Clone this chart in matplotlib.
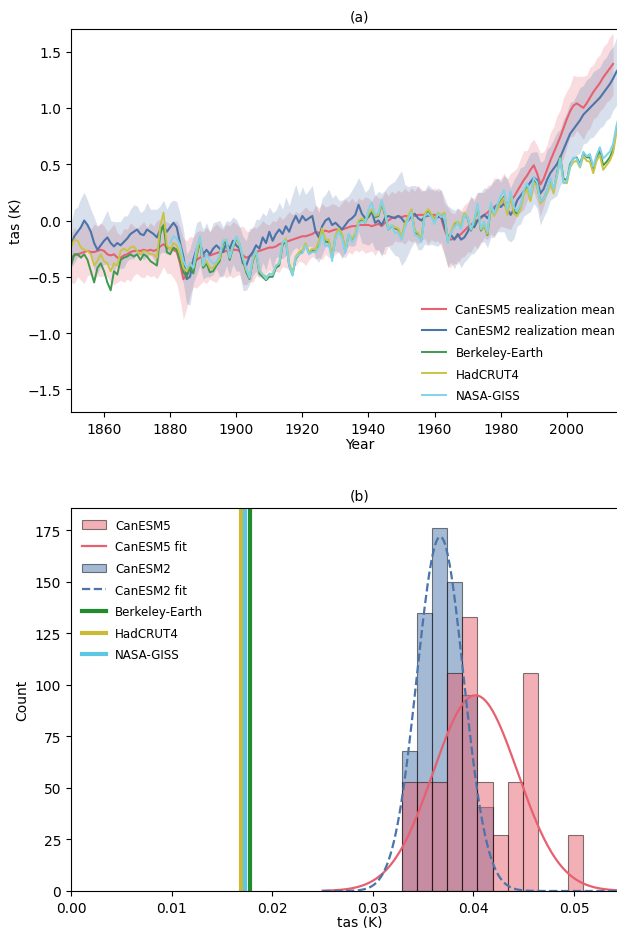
import numpy as np
import matplotlib
matplotlib.use("Agg")
import matplotlib.pyplot as plt

# ---- annual global-mean tas anomalies (K) ----
years = np.arange(1850, 2017)
years_canesm5 = np.arange(1850, 2015)
years_giss = np.arange(1880, 2017)

canesm5_mean = [
    -0.33, -0.31, -0.30, -0.29, -0.28, -0.27, -0.28, -0.28, -0.27, -0.26,
    -0.27, -0.30, -0.31, -0.30, -0.33, -0.33, -0.31, -0.30, -0.28, -0.27,
    -0.27, -0.27, -0.26, -0.27, -0.26, -0.27, -0.26, -0.23, -0.21, -0.24,
    -0.25, -0.26, -0.28, -0.38, -0.52, -0.48, -0.40, -0.37, -0.35, -0.33,
    -0.32, -0.31, -0.31, -0.30, -0.29, -0.28, -0.28, -0.27, -0.27, -0.26,
    -0.26, -0.27, -0.31, -0.33, -0.32, -0.30, -0.28, -0.27, -0.26, -0.25,
    -0.24, -0.24, -0.23, -0.21, -0.20, -0.19, -0.18, -0.17, -0.16, -0.15,
    -0.14, -0.14, -0.13, -0.12, -0.10, -0.11, -0.10, -0.09, -0.10, -0.09,
    -0.08, -0.08, -0.08, -0.07, -0.06, -0.05, -0.05, -0.04, -0.04, -0.04,
    -0.04, -0.05, -0.04, -0.03, -0.05, -0.02, 0.00, 0.02, 0.03, 0.04,
    0.03, 0.04, 0.04, 0.05, 0.04, 0.05, 0.05, 0.05, 0.04, 0.05,
    0.05, 0.04, 0.02, -0.08, -0.15, -0.17, -0.16, -0.14, -0.12, -0.09,
    -0.06, -0.04, -0.01, 0.00, 0.02, 0.05, 0.07, 0.10, 0.12, 0.14,
    0.16, 0.18, 0.15, 0.17, 0.21, 0.26, 0.31, 0.36, 0.40, 0.45,
    0.49, 0.42, 0.32, 0.37, 0.45, 0.53, 0.60, 0.67, 0.74, 0.82,
    0.90, 0.97, 1.02, 1.04, 1.02, 1.00, 1.04, 1.09, 1.14, 1.18,
    1.22, 1.27, 1.31, 1.35, 1.39,
]
canesm5_spread = [
    0.22, 0.25, 0.20, 0.24, 0.28, 0.22, 0.20, 0.25, 0.22, 0.24,
    0.22, 0.20, 0.24, 0.27, 0.22, 0.20, 0.24, 0.22, 0.26, 0.22,
    0.20, 0.23, 0.25, 0.21, 0.24, 0.22, 0.26, 0.24, 0.20, 0.23,
    0.22, 0.25, 0.28, 0.32, 0.36, 0.30, 0.26, 0.22, 0.25, 0.24,
    0.22, 0.25, 0.21, 0.24, 0.26, 0.22, 0.20, 0.24, 0.22, 0.25,
    0.23, 0.21, 0.26, 0.24, 0.22, 0.25, 0.21, 0.23, 0.26, 0.22,
    0.20, 0.24, 0.22, 0.25, 0.21, 0.23, 0.26, 0.22, 0.24, 0.21,
    0.23, 0.26, 0.22, 0.20, 0.24, 0.22, 0.25, 0.21, 0.23, 0.24,
    0.22, 0.20, 0.24, 0.26, 0.22, 0.25, 0.21, 0.24, 0.22, 0.25,
    0.24, 0.22, 0.27, 0.23, 0.25, 0.28, 0.22, 0.24, 0.21, 0.23,
    0.22, 0.25, 0.21, 0.24, 0.22, 0.26, 0.23, 0.21, 0.25, 0.22,
    0.24, 0.22, 0.25, 0.23, 0.27, 0.24, 0.22, 0.25, 0.21, 0.23,
    0.22, 0.24, 0.21, 0.25, 0.23, 0.20, 0.24, 0.22, 0.26, 0.23,
    0.21, 0.24, 0.22, 0.25, 0.23, 0.21, 0.24, 0.26, 0.22, 0.24,
    0.23, 0.25, 0.28, 0.24, 0.22, 0.25, 0.23, 0.26, 0.24, 0.27,
    0.25, 0.23, 0.27, 0.24, 0.26, 0.28, 0.25, 0.27, 0.24, 0.26,
    0.25, 0.27, 0.26, 0.28, 0.27,
]
canesm2_mean = [
    -0.22, -0.14, -0.10, -0.06, 0.00, -0.04, -0.10, -0.20, -0.26, -0.22,
    -0.18, -0.15, -0.20, -0.23, -0.20, -0.22, -0.19, -0.16, -0.12, -0.10,
    -0.08, -0.12, -0.13, -0.08, -0.10, -0.12, -0.15, -0.08, -0.05, -0.10,
    -0.06, -0.02, -0.06, -0.20, -0.32, -0.52, -0.50, -0.35, -0.25, -0.20,
    -0.30, -0.26, -0.30, -0.25, -0.22, -0.25, -0.28, -0.20, -0.25, -0.18,
    -0.22, -0.25, -0.38, -0.40, -0.32, -0.28, -0.22, -0.25, -0.15, -0.20,
    -0.10, -0.18, -0.12, -0.08, -0.12, -0.05, -0.10, -0.02, 0.04, -0.02,
    0.04, 0.00, 0.02, 0.04, -0.10, -0.15, -0.05, 0.00, 0.02, -0.04,
    -0.02, -0.05, -0.08, -0.04, 0.00, 0.02, 0.05, 0.14, 0.06, 0.02,
    0.03, 0.08, -0.02, 0.00, -0.04, 0.02, 0.04, 0.03, 0.02, 0.04,
    0.02, -0.02, 0.00, 0.04, 0.06, 0.02, 0.00, 0.03, 0.05, 0.04,
    0.02, 0.03, 0.04, -0.05, -0.14, -0.13, -0.17, -0.12, -0.17, -0.15,
    -0.10, -0.04, -0.06, 0.00, 0.03, 0.05, 0.02, 0.08, 0.10, 0.14,
    0.12, 0.15, 0.10, 0.05, 0.10, 0.18, 0.22, 0.26, 0.30, 0.34,
    0.38, 0.36, 0.24, 0.28, 0.36, 0.42, 0.46, 0.50, 0.56, 0.63,
    0.70, 0.77, 0.81, 0.85, 0.89, 0.94, 0.97, 1.00, 1.03, 1.06,
    1.09, 1.13, 1.17, 1.21, 1.26, 1.32, 1.36,
]
canesm2_spread = [
    0.20, 0.24, 0.22, 0.26, 0.25, 0.22, 0.20, 0.23, 0.21, 0.19,
    0.21, 0.24, 0.20, 0.22, 0.19, 0.21, 0.23, 0.20, 0.22, 0.24,
    0.21, 0.19, 0.22, 0.24, 0.20, 0.22, 0.25, 0.21, 0.23, 0.20,
    0.22, 0.20, 0.23, 0.26, 0.24, 0.22, 0.25, 0.21, 0.23, 0.20,
    0.22, 0.24, 0.20, 0.23, 0.21, 0.25, 0.22, 0.20, 0.24, 0.21,
    0.23, 0.20, 0.24, 0.22, 0.25, 0.21, 0.23, 0.26, 0.22, 0.24,
    0.22, 0.25, 0.21, 0.24, 0.22, 0.26, 0.23, 0.25, 0.28, 0.24,
    0.26, 0.23, 0.25, 0.27, 0.24, 0.22, 0.25, 0.23, 0.26, 0.24,
    0.25, 0.23, 0.26, 0.24, 0.22, 0.25, 0.27, 0.24, 0.26, 0.23,
    0.25, 0.27, 0.24, 0.26, 0.28, 0.25, 0.27, 0.30, 0.33, 0.36,
    0.42, 0.34, 0.30, 0.27, 0.25, 0.28, 0.26, 0.24, 0.27, 0.25,
    0.24, 0.26, 0.23, 0.25, 0.27, 0.24, 0.26, 0.23, 0.25, 0.22,
    0.24, 0.26, 0.23, 0.25, 0.22, 0.24, 0.26, 0.23, 0.25, 0.24,
    0.22, 0.25, 0.27, 0.24, 0.26, 0.23, 0.25, 0.22, 0.24, 0.26,
    0.23, 0.25, 0.28, 0.25, 0.27, 0.24, 0.26, 0.28, 0.25, 0.27,
    0.26, 0.28, 0.25, 0.27, 0.29, 0.26, 0.28, 0.27, 0.29, 0.28,
    0.27, 0.29, 0.28, 0.30, 0.28, 0.30, 0.29,
]
berkeley = [
    -0.40, -0.30, -0.30, -0.33, -0.30, -0.35, -0.45, -0.55, -0.42, -0.38,
    -0.45, -0.55, -0.62, -0.45, -0.48, -0.35, -0.33, -0.32, -0.30, -0.32,
    -0.30, -0.35, -0.30, -0.32, -0.36, -0.38, -0.40, -0.12, -0.04, -0.28,
    -0.30, -0.24, -0.26, -0.36, -0.46, -0.50, -0.42, -0.47, -0.32, -0.18,
    -0.42, -0.38, -0.46, -0.45, -0.40, -0.36, -0.20, -0.19, -0.35, -0.24,
    -0.16, -0.21, -0.35, -0.46, -0.52, -0.36, -0.28, -0.47, -0.50, -0.53,
    -0.50, -0.50, -0.42, -0.40, -0.22, -0.18, -0.40, -0.48, -0.34, -0.30,
    -0.28, -0.22, -0.29, -0.27, -0.27, -0.20, -0.09, -0.19, -0.19, -0.33,
    -0.15, -0.08, -0.13, -0.27, -0.13, -0.17, -0.13, -0.02, 0.01, -0.02,
    0.05, 0.09, 0.03, 0.04, 0.15, 0.05, -0.08, -0.05, -0.07, -0.08,
    -0.16, -0.04, 0.03, 0.09, -0.10, -0.12, -0.17, 0.05, 0.09, 0.05,
    -0.01, 0.06, 0.04, 0.06, -0.19, -0.11, -0.03, -0.02, -0.05, 0.06,
    0.02, -0.09, -0.01, 0.12, -0.09, -0.04, -0.13, 0.12, 0.05, 0.11,
    0.17, 0.21, 0.07, 0.24, 0.08, 0.06, 0.12, 0.25, 0.30, 0.19,
    0.36, 0.32, 0.17, 0.19, 0.26, 0.36, 0.27, 0.41, 0.57, 0.37,
    0.36, 0.50, 0.55, 0.56, 0.50, 0.60, 0.56, 0.56, 0.46, 0.56,
    0.62, 0.49, 0.52, 0.56, 0.63, 0.81, 0.88,
]
hadcrut4 = [
    -0.24, -0.17, -0.18, -0.24, -0.26, -0.27, -0.30, -0.40, -0.36, -0.30,
    -0.36, -0.38, -0.45, -0.38, -0.40, -0.27, -0.25, -0.27, -0.24, -0.23,
    -0.27, -0.30, -0.27, -0.28, -0.30, -0.30, -0.33, -0.05, 0.07, -0.22,
    -0.26, -0.20, -0.22, -0.30, -0.42, -0.45, -0.38, -0.42, -0.30, -0.15,
    -0.40, -0.36, -0.42, -0.42, -0.38, -0.34, -0.18, -0.17, -0.33, -0.22,
    -0.15, -0.22, -0.33, -0.44, -0.50, -0.35, -0.27, -0.45, -0.48, -0.50,
    -0.48, -0.48, -0.40, -0.38, -0.20, -0.16, -0.38, -0.46, -0.32, -0.28,
    -0.26, -0.20, -0.28, -0.25, -0.26, -0.18, -0.07, -0.17, -0.17, -0.32,
    -0.13, -0.07, -0.12, -0.26, -0.12, -0.16, -0.12, 0.00, 0.02, -0.01,
    0.06, 0.10, 0.04, 0.05, 0.16, 0.06, -0.07, -0.04, -0.06, -0.07,
    -0.15, -0.03, 0.04, 0.10, -0.09, -0.11, -0.16, 0.06, 0.10, 0.06,
    0.00, 0.07, 0.05, 0.07, -0.18, -0.10, -0.02, -0.01, -0.04, 0.07,
    0.03, -0.08, 0.00, 0.13, -0.08, -0.04, -0.12, 0.12, 0.04, 0.10,
    0.16, 0.20, 0.05, 0.22, 0.06, 0.04, 0.10, 0.23, 0.28, 0.17,
    0.34, 0.30, 0.15, 0.18, 0.24, 0.33, 0.24, 0.39, 0.55, 0.34,
    0.33, 0.47, 0.52, 0.53, 0.47, 0.57, 0.53, 0.52, 0.42, 0.53,
    0.58, 0.45, 0.49, 0.53, 0.60, 0.78, 0.84,
]
nasa_giss = [
    -0.20, -0.14, -0.16, -0.22, -0.36, -0.42, -0.38, -0.42, -0.24, -0.14,
    -0.40, -0.30, -0.35, -0.38, -0.37, -0.30, -0.18, -0.17, -0.33, -0.23,
    -0.14, -0.20, -0.33, -0.42, -0.51, -0.32, -0.27, -0.44, -0.48, -0.52,
    -0.47, -0.48, -0.40, -0.38, -0.19, -0.18, -0.40, -0.49, -0.33, -0.30,
    -0.29, -0.22, -0.30, -0.28, -0.28, -0.24, -0.12, -0.23, -0.21, -0.36,
    -0.16, -0.10, -0.16, -0.29, -0.12, -0.19, -0.15, -0.03, -0.01, -0.02,
    0.10, 0.16, 0.05, 0.07, 0.18, 0.07, -0.08, -0.04, -0.11, -0.11,
    -0.17, -0.07, 0.01, 0.07, -0.13, -0.14, -0.19, 0.04, 0.06, 0.03,
    -0.03, 0.06, 0.03, 0.05, -0.20, -0.11, -0.06, -0.02, -0.08, 0.05,
    0.03, -0.08, 0.01, 0.15, -0.07, -0.01, -0.10, 0.16, 0.06, 0.14,
    0.22, 0.27, 0.10, 0.26, 0.12, 0.08, 0.14, 0.27, 0.33, 0.22,
    0.38, 0.34, 0.17, 0.19, 0.26, 0.38, 0.28, 0.40, 0.55, 0.33,
    0.35, 0.48, 0.56, 0.55, 0.48, 0.61, 0.57, 0.59, 0.48, 0.58,
    0.65, 0.55, 0.58, 0.61, 0.68, 0.84, 0.95,
]

# ---- trend histograms (density, "Count" axis) ----
bin_edges = [0.0329, 0.0344, 0.0359, 0.0374, 0.0389, 0.0404, 0.0419,
             0.0434, 0.0449, 0.0464, 0.0479, 0.0494, 0.0509]
canesm5_counts = [53, 53, 53, 106, 133, 53, 27, 53, 106, 0, 0, 27]
canesm2_counts = [68, 135, 176, 150, 95, 41, 0, 0, 0, 0, 0, 0]
canesm5_fit = (0.0402, 0.0042)   # mean, std
canesm2_fit = (0.0367, 0.00232)
obs_trends = {"Berkeley-Earth": 0.0178, "HadCRUT4": 0.0169, "NASA-GISS": 0.0173}

c5_color = "#e8606f"
c2_color = "#4a74aa"
obs_colors_a = {"Berkeley-Earth": "#3d9a4f", "HadCRUT4": "#c9c445", "NASA-GISS": "#7fd3ea"}
obs_colors_b = {"Berkeley-Earth": "#228b2e", "HadCRUT4": "#cdb935", "NASA-GISS": "#5ec7e6"}

W, H = 617, 929
fig = plt.figure(figsize=(W / 100, H / 100), dpi=100)

def axes_px(left, top, right, bottom):
    return fig.add_axes([left / W, 1 - bottom / H, (right - left) / W, (bottom - top) / H])

leg_kw = dict(frameon=False, fontsize=8.6, labelspacing=0.72)

# ---------------- (a) time series ----------------
ax1 = axes_px(71, 30, 648, 413)
c5m = np.array(canesm5_mean)
c5s = np.array(canesm5_spread)
c2m = np.array(canesm2_mean)
c2s = np.array(canesm2_spread)
ax1.fill_between(years_canesm5, c5m - c5s, c5m + c5s, color=c5_color, alpha=0.22, lw=0)
ax1.fill_between(years, c2m - c2s, c2m + c2s, color=c2_color, alpha=0.22, lw=0)
ax1.plot(years_canesm5, c5m, color=c5_color, lw=1.5, label="CanESM5 realization mean")
ax1.plot(years, c2m, color=c2_color, lw=1.5, label="CanESM2 realization mean")
ax1.plot(years, berkeley, color=obs_colors_a["Berkeley-Earth"], lw=1.4, label="Berkeley-Earth")
ax1.plot(years, hadcrut4, color=obs_colors_a["HadCRUT4"], lw=1.4, label="HadCRUT4")
ax1.plot(years_giss, nasa_giss, color=obs_colors_a["NASA-GISS"], lw=1.4, label="NASA-GISS")

ax1.set_xlim(1850, 1850 + (648 - 70.2) / 3.31)
ax1.set_ylim(-1.7, 1.7)
ax1.set_xticks(np.arange(1860, 2001, 20))
ax1.set_yticks(np.arange(-1.5, 1.51, 0.5))
ax1.set_xlabel("Year", labelpad=1)
ax1.set_ylabel("tas (K)")
ax1.set_title("(a)", fontsize=10)
ax1.legend(loc="lower right", bbox_to_anchor=(626 / W, 1 - 414 / H),
           bbox_transform=fig.transFigure, **leg_kw)

# ---------------- (b) trend distributions ----------------
ax2 = axes_px(71, 509, 648, 892)
edges = np.array(bin_edges)
centers = 0.5 * (edges[:-1] + edges[1:])
ax2.hist(centers, bins=edges, weights=canesm2_counts, color=c2_color, alpha=0.5,
         edgecolor="black", linewidth=0.8, label="CanESM2")
ax2.hist(centers, bins=edges, weights=canesm5_counts, color=c5_color, alpha=0.5,
         edgecolor="black", linewidth=0.8, label="CanESM5")

xfit = np.linspace(0.025, 0.06, 400)
for (mu, sd), col, ls, lab in [(canesm5_fit, c5_color, "-", "CanESM5 fit"),
                               (canesm2_fit, c2_color, "--", "CanESM2 fit")]:
    pdf = np.exp(-0.5 * ((xfit - mu) / sd) ** 2) / (sd * np.sqrt(2 * np.pi))
    ax2.plot(xfit, pdf, color=col, ls=ls, lw=1.6, label=lab)

for name, val in obs_trends.items():
    ax2.axvline(val, color=obs_colors_b[name], lw=3, label=name)

ax2.set_xlim(0, (648 - 71) / 100.6 * 0.01)
ax2.set_ylim(0, 185.9)
ax2.set_xticks(np.arange(0, 0.051, 0.01))
ax2.set_xticklabels([f"{t:.2f}" for t in np.arange(0, 0.051, 0.01)])
ax2.set_yticks(np.arange(0, 176, 25))
ax2.set_xlabel("tas (K)", labelpad=0)
ax2.set_ylabel("Count")
ax2.set_title("(b)", fontsize=10)

h, l = ax2.get_legend_handles_labels()
order = ["CanESM5", "CanESM5 fit", "CanESM2", "CanESM2 fit",
         "Berkeley-Earth", "HadCRUT4", "NASA-GISS"]
hd = dict(zip(l, h))
ax2.legend([hd[k] for k in order], order, loc="upper left", **leg_kw)

fig.savefig("out.png", dpi=100)
